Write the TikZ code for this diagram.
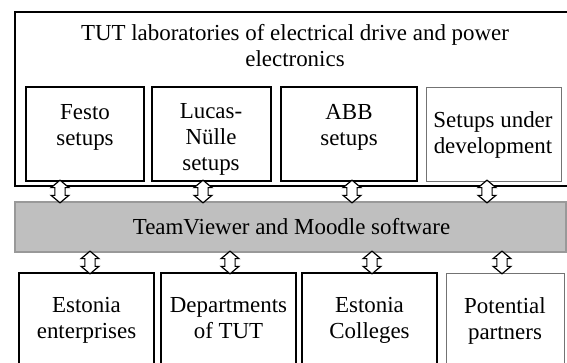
\documentclass[tikz,border=0pt]{standalone}
\usepackage{fontspec}
\setmainfont{Liberation Serif}
\usetikzlibrary{shapes.arrows,calc,fit}
\tikzset{
  box/.style={draw=black, line width=1.1pt, inner sep=0pt, outer sep=0pt},
  lightbox/.style={draw=black!55, line width=0.7pt, inner sep=0pt, outer sep=0pt},
  bandbox/.style={draw=black!40, fill=black!25, line width=0.8pt, inner sep=0pt, outer sep=0pt},
  txt/.style={font=\fontsize{17.2}{19.5}\selectfont, align=center, inner sep=0pt, anchor=north},
  dbl/.style={double arrow, draw=black, fill=white, line width=0.9pt, rotate=90,
    minimum height=17pt, inner xsep=0pt, inner ysep=3.4pt,
    double arrow head extend=2.8pt, double arrow tip angle=100}
}
\begin{document}
\begin{tikzpicture}[x=0.75pt,y=-0.75pt]
\useasboundingbox (0,0) rectangle (567,363);
% outer lab box
\node[box, fit={(15,12) (571,186)}] (lab) {};
\node[box, fit={(26,87) (144,181)}] (festo) {};
\node[box, fit={(152,87) (271,181)}] (lucas) {};
\node[box, fit={(281,87) (417,181)}] (abb) {};
\node[lightbox, fit={(426,87) (561,181)}] (dev) {};
% software band
\node[bandbox, fit={(15,202) (566,252)}] (band) {};
% bottom boxes
\node[box, fit={(19,273) (154,372)}] (ent) {};
\node[box, fit={(161,273) (296,372)}] (dep) {};
\node[box, fit={(302,273) (437,372)}] (col) {};
\node[lightbox, fit={(446,273) (564,372)}] (par) {};
% texts
\node[txt] (labT) at (295,24.5) {TUT laboratories of electrical drive and power\\electronics};
\node[txt] (festoT) at (85,103.8) {Festo\\setups};
\node[txt] (lucasT) at (211,103.5) {Lucas-\\Nülle\\setups};
\node[txt] (abbT) at (349,103.8) {ABB\\setups};
\node[txt] (devT) at (493,111.2) {Setups under\\development};
\node[txt] (bandT) at (291.5,217.7) {TeamViewer and Moodle software};
\node[txt] (entT) at (86.5,297.5) {Estonia\\enterprises};
\node[txt] (depT) at (228.5,297.5) {Departments\\of TUT};
\node[txt] (colT) at (369.5,297.5) {Estonia\\Colleges};
\node[txt] (parT) at (505,297.5) {Potential\\partners};
% double arrows
\node[dbl] (a1) at ($(60,0 |- festo.south)!0.5!(60,0 |- band.north)$) {};
\node[dbl] (a2) at ($(203,0 |- lucas.south)!0.5!(203,0 |- band.north)$) {};
\node[dbl] (a3) at ($(352,0 |- abb.south)!0.5!(352,0 |- band.north)$) {};
\node[dbl] (a4) at ($(487,0 |- dev.south)!0.5!(487,0 |- band.north)$) {};
\node[dbl] (b1) at ($(90,0 |- band.south)!0.5!(90,0 |- ent.north)$) {};
\node[dbl] (b2) at ($(230,0 |- band.south)!0.5!(230,0 |- dep.north)$) {};
\node[dbl] (b3) at ($(372,0 |- band.south)!0.5!(372,0 |- col.north)$) {};
\node[dbl] (b4) at ($(502,0 |- band.south)!0.5!(502,0 |- par.north)$) {};
\end{tikzpicture}
\end{document}
